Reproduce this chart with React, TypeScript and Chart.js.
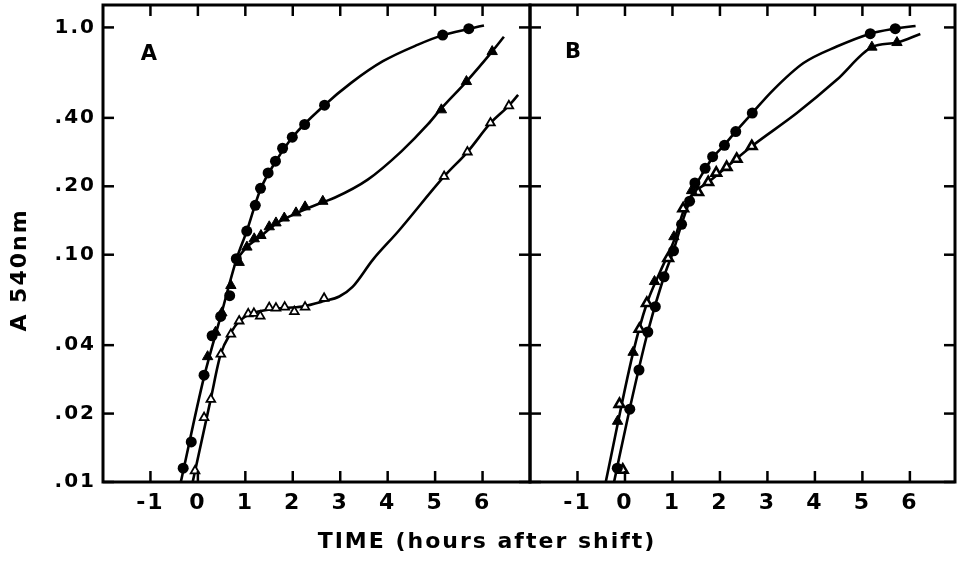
import React, { useEffect, useRef } from 'react';
import { Chart, registerables } from 'chart.js';

Chart.register(...registerables);

// ---------- axis ticks ----------
const xTickValues = [-1, 0, 1, 2, 3, 4, 5, 6];
const yTickValues = [0.01, 0.02, 0.04, 0.1, 0.2, 0.4, 1.0];
const yTickLabels = ['.01', '.02', '.04', '.10', '.20', '.40', '1.0'];
const xTitle = 'TIME (hours after shift)';
const yTitle = 'A 540nm';

// ---------- Panel A: plotted points [time, A540] ----------
const aCircles: [number, number][] = [
  [-0.31, 0.0115], [-0.14, 0.015], [0.13, 0.0295], [0.3, 0.044], [0.48, 0.0535],
  [0.67, 0.066], [0.81, 0.096], [1.03, 0.127], [1.21, 0.165], [1.32, 0.196],
  [1.48, 0.229], [1.635, 0.258], [1.785, 0.294], [1.99, 0.329], [2.25, 0.374],
  [2.67, 0.455], [5.16, 0.925], [5.71, 0.987],
];
const aFilledTriangles: [number, number][] = [
  [0.205, 0.0356], [0.372, 0.0456], [0.505, 0.0555], [0.695, 0.0732], [0.87, 0.0925],
  [1.033, 0.108], [1.187, 0.1175], [1.329, 0.1215], [1.504, 0.1327], [1.646, 0.138],
  [1.821, 0.145], [2.068, 0.1528], [2.259, 0.1624], [2.633, 0.1718], [5.132, 0.434],
  [5.66, 0.578], [6.203, 0.783],
];
const aOpenTriangles: [number, number][] = [
  [-0.06, 0.0112], [0.131, 0.0192], [0.273, 0.0231], [0.484, 0.0365], [0.695, 0.0447],
  [0.87, 0.0511], [1.061, 0.0549], [1.181, 0.0552], [1.314, 0.0537], [1.504, 0.0585],
  [1.646, 0.0582], [1.83, 0.0588], [2.033, 0.0562], [2.259, 0.0588], [2.66, 0.0643],
  [5.19, 0.221], [5.68, 0.283], [6.167, 0.38], [6.554, 0.452],
];
// fitted curves (as drawn in the figure)
const aCircleCurve: [number, number][] = [
  [-0.36, 0.01], [0.13, 0.029], [0.48, 0.0535], [0.81, 0.095], [1.03, 0.127],
  [1.32, 0.194], [1.64, 0.257], [1.99, 0.328], [2.67, 0.455], [3.23, 0.57],
  [3.9, 0.71], [4.64, 0.84], [5.16, 0.925], [5.71, 0.985], [6.03, 1.02],
];
const aFilledCurve: [number, number][] = [
  [0.81, 0.095], [1.03, 0.108], [1.33, 0.121], [1.65, 0.137], [2.07, 0.152],
  [2.63, 0.17], [2.88, 0.178], [3.58, 0.214], [4.29, 0.285], [4.85, 0.375],
  [5.13, 0.44], [5.66, 0.578], [6.2, 0.783], [6.45, 0.91],
];
const aOpenCurve: [number, number][] = [
  [-0.11, 0.01], [0.27, 0.0231], [0.48, 0.0365], [0.7, 0.0455], [0.87, 0.051],
  [1.1, 0.0548], [1.6, 0.0578], [2.2, 0.0592], [2.66, 0.0625], [2.98, 0.0655],
  [3.26, 0.0722], [3.69, 0.0952], [4.22, 0.1265], [5.19, 0.221], [5.68, 0.283],
  [6.17, 0.38], [6.55, 0.452], [6.75, 0.505],
];

// ---------- Panel B ----------
const bCircles: [number, number][] = [
  [-0.162, 0.0115], [0.101, 0.0209], [0.295, 0.0311], [0.481, 0.0457], [0.639, 0.0591],
  [0.823, 0.08], [1.023, 0.104], [1.192, 0.136], [1.361, 0.172], [1.473, 0.207],
  [1.688, 0.24], [1.846, 0.27], [2.095, 0.303], [2.333, 0.348], [2.681, 0.42],
  [5.165, 0.939], [5.692, 0.987],
];
const bFilledTriangles: [number, number][] = [
  [-0.156, 0.0185], [0.171, 0.0372], [0.622, 0.0762], [1.03, 0.12], [1.403, 0.1914],
  [5.2, 0.819], [5.728, 0.858],
];
const bOpenTriangles: [number, number][] = [
  [-0.116, 0.022], [-0.046, 0.0113], [0.304, 0.0471], [0.46, 0.0612], [0.909, 0.0965],
  [1.226, 0.1596], [1.542, 0.1882], [1.753, 0.2083], [1.922, 0.229], [2.141, 0.2428],
  [2.352, 0.2637], [2.67, 0.3],
];
const bCircleCurve: [number, number][] = [
  [-0.23, 0.01], [0.1, 0.021], [0.48, 0.0457], [0.82, 0.08], [1.02, 0.104],
  [1.19, 0.136], [1.36, 0.172], [1.5, 0.203], [1.69, 0.238], [1.85, 0.268],
  [2.1, 0.305], [2.33, 0.348], [2.68, 0.42], [3.12, 0.53], [3.76, 0.697],
  [4.46, 0.824], [5.17, 0.939], [5.69, 0.987], [6.12, 1.015],
];
const bTriangleCurve: [number, number][] = [
  [-0.405, 0.01], [0.17, 0.037], [0.46, 0.061], [0.75, 0.085], [1.03, 0.115],
  [1.23, 0.155], [1.4, 0.182], [1.75, 0.208], [2.14, 0.243], [2.67, 0.3],
  [3.62, 0.42], [4.46, 0.588], [5.2, 0.819], [5.73, 0.858], [6.22, 0.936],
];

const FONT = '"DejaVu Sans", "Liberation Sans", sans-serif';
const toXY = (arr: [number, number][]) => arr.map(([x, y]) => ({ x, y }));

const curve = (arr: [number, number][]) => ({
  data: toXY(arr),
  showLine: true,
  borderColor: '#000',
  borderWidth: 2.6,
  pointRadius: 0,
  cubicInterpolationMode: 'monotone' as const,
  order: 2,
});
const marks = (arr: [number, number][], style: 'circle' | 'triangle', filled: boolean, r: number, bw: number) => ({
  data: toXY(arr),
  showLine: false,
  pointStyle: style,
  pointRadius: r,
  pointBackgroundColor: filled ? '#000' : '#fff',
  pointBorderColor: '#000',
  pointBorderWidth: bw,
  order: 0,
});

const frameTicks = {
  id: 'frameTicks',
  beforeDraw(chart: any) {
    chart.ctx.letterSpacing = '2px';
  },
  afterDatasetsDraw(chart: any) {
    const { ctx, chartArea, scales } = chart;
    const { left, right, top, bottom } = chartArea;
    const L = 11;
    ctx.save();
    ctx.strokeStyle = '#000';
    ctx.lineWidth = 2.5;
    const line = (x1: number, y1: number, x2: number, y2: number) => {
      ctx.beginPath();
      ctx.moveTo(x1, y1);
      ctx.lineTo(x2, y2);
      ctx.stroke();
    };
    scales.x.ticks.forEach((t: any) => {
      const p = scales.x.getPixelForValue(t.value);
      line(p, bottom, p, bottom - L);
      line(p, top, p, top + L);
    });
    scales.y.ticks.forEach((t: any) => {
      const p = scales.y.getPixelForValue(t.value);
      line(left, p, left + L, p);
      line(right, p, right - L, p);
    });
    ctx.lineWidth = 3;
    ctx.strokeRect(left, top, right - left, bottom - top);
    ctx.restore();
  },
};

const zeroPad = (s: any) => {
  s.paddingLeft = 0;
  s.paddingRight = 0;
  s.paddingTop = 0;
  s.paddingBottom = 0;
};

function buildConfig(datasets: any[], xMax: number, showY: boolean, padLeft: number, padRight: number): any {
  return {
    type: 'scatter',
    data: { datasets },
    plugins: [frameTicks],
    options: {
      responsive: false,
      animation: false,
      devicePixelRatio: 1,
      layout: { autoPadding: false, padding: { left: padLeft, right: padRight, top: 5, bottom: 0 } },
      plugins: { legend: { display: false }, tooltip: { enabled: false } },
      scales: {
        x: {
          type: 'linear',
          min: -2,
          max: xMax,
          grid: { display: false, drawTicks: false },
          border: { display: false },
          afterBuildTicks: (s: any) => { s.ticks = xTickValues.map((v) => ({ value: v })); },
          afterFit: (s: any) => { s.height = 92; zeroPad(s); },
          ticks: {
            autoSkip: false,
            maxRotation: 0,
            padding: 8,
            color: '#000',
            font: { family: FONT, weight: 'bold', size: 22 },
            callback: (v: number) => String(v),
          },
        },
        y: {
          type: 'logarithmic',
          min: 0.01,
          max: 1.255,
          grid: { display: false, drawTicks: false },
          border: { display: false },
          afterBuildTicks: (s: any) => { s.ticks = yTickValues.map((v) => ({ value: v })); },
          afterFit: (s: any) => { s.width = showY ? 103 : 0; zeroPad(s); },
          ticks: {
            display: showY,
            autoSkip: false,
            padding: 7,
            color: '#000',
            font: { family: FONT, weight: 'bold', size: 20 },
            callback: (v: number) => {
              const i = yTickValues.findIndex((t) => Math.abs(t - v) < 1e-9);
              return i >= 0 ? yTickLabels[i] : '';
            },
          },
        },
      },
    },
  };
}

export default function App() {
  const refA = useRef<HTMLCanvasElement>(null);
  const refB = useRef<HTMLCanvasElement>(null);

  useEffect(() => {
    const dsA = [
      curve(aCircleCurve), curve(aFilledCurve), curve(aOpenCurve),
      marks(aCircles, 'circle', true, 5.5, 0),
      marks(aFilledTriangles, 'triangle', true, 6, 1),
      marks(aOpenTriangles, 'triangle', false, 5, 1.8),
    ];
    const dsB = [
      curve(bCircleCurve), curve(bTriangleCurve),
      marks(bCircles, 'circle', true, 5.5, 0),
      marks(bFilledTriangles, 'triangle', true, 6, 1),
      marks(bOpenTriangles, 'triangle', false, 5.5, 2.6),
    ];
    const a = new Chart(refA.current!, buildConfig(dsA, 7, true, 0, 2));
    const b = new Chart(refB.current!, buildConfig(dsB, 6.95, false, 2, 2));
    return () => { a.destroy(); b.destroy(); };
  }, []);

  const text: React.CSSProperties = {
    position: 'absolute',
    fontFamily: FONT,
    fontWeight: 'bold',
    color: '#000',
    letterSpacing: '2px',
    whiteSpace: 'nowrap',
  };

  return (
    <div style={{ position: 'absolute', left: 0, top: 0, width: 957, height: 574, background: '#fff', overflow: 'hidden' }}>
      <canvas ref={refA} width={532} height={574} style={{ position: 'absolute', left: 0, top: 0 }} />
      <canvas ref={refB} width={429} height={574} style={{ position: 'absolute', left: 528, top: 0 }} />
      <div style={{ ...text, left: 130, top: 43, width: 40, textAlign: 'center', fontSize: 21, lineHeight: '21px' }}>A</div>
      <div style={{ ...text, left: 554, top: 41, width: 40, textAlign: 'center', fontSize: 21, lineHeight: '21px' }}>B</div>
      <div style={{ ...text, left: 287, top: 530, width: 400, textAlign: 'center', fontSize: 22, lineHeight: '22px' }}>{xTitle}</div>
      <div style={{ ...text, left: -81, top: 259, width: 200, height: 22, textAlign: 'center', fontSize: 22, lineHeight: '22px', transform: 'rotate(-90deg)' }}>{yTitle}</div>
    </div>
  );
}
